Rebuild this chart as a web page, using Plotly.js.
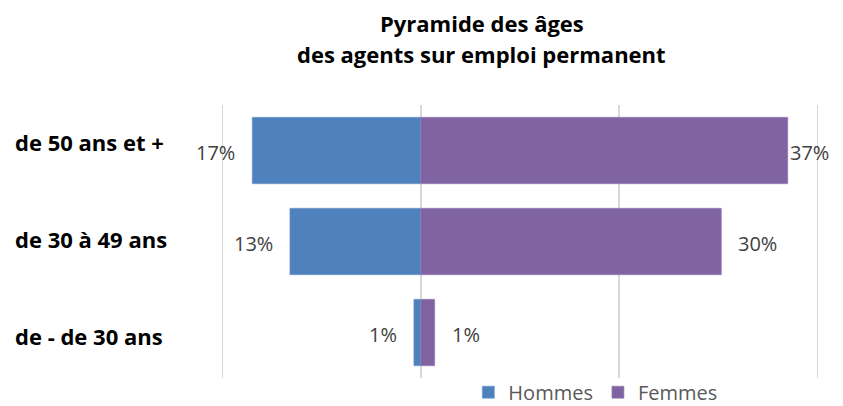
<!DOCTYPE html>
<html>
<head>
<meta charset="utf-8">
<script src="https://cdn.plot.ly/plotly-3.0.1.min.js"></script>
<style>html,body{margin:0;padding:0;background:#fff;}#chart{width:843px;height:406px;}</style>
</head>
<body>
<div id="chart"></div>
<script>
// Data (top to bottom)
const categories = ['de 50 ans et +', 'de 30 à 49 ans', 'de - de 30 ans'];
const hommes = [17, 13.2, 0.7];
const femmes = [37, 30.3, 1.4];
const seriesNames = ['Hommes', 'Femmes'];
const titleLines = ['Pyramide des âges', 'des agents sur emploi permanent'];

const colH = '#4f81bd', colF = '#8064a2';
const fmt = v => Math.round(v) + '%';
const catShift = [9, 3, -3];

const traces = [
  {
    type: 'bar', orientation: 'h', name: seriesNames[0],
    y: categories, x: hommes.map(v => -v),
    marker: {color: colH, line: {color: '#6f97c9', width: 0.6}},
    width: 0.73, hoverinfo: 'skip'
  },
  {
    type: 'bar', orientation: 'h', name: seriesNames[1],
    y: categories, x: femmes,
    marker: {color: colF, line: {color: '#957cb3', width: 0.6}},
    width: 0.73, hoverinfo: 'skip'
  }
];

const annotations = [];
categories.forEach((c, i) => {
  annotations.push({
    xref: 'x', yref: 'y', x: -hommes[i], y: c, text: fmt(hommes[i]),
    xanchor: 'right', xshift: -15, yshift: -2, showarrow: false,
    font: {family: 'Open Sans', size: 20, color: '#404040'}
  });
  annotations.push({
    xref: 'x', yref: 'y', x: femmes[i], y: c, text: fmt(femmes[i]),
    xanchor: 'left', xshift: femmes[i] > 35 ? 0 : 15, yshift: -2, showarrow: false,
    font: {family: 'Open Sans', size: 20, color: '#404040'}
  });
  annotations.push({
    xref: 'paper', yref: 'y', x: -0.348, y: c, text: '<b>' + c + '</b>',
    xanchor: 'left', yshift: catShift[i], showarrow: false,
    font: {family: 'Open Sans', size: 22, color: '#000000'}
  });
});
titleLines.forEach((t, i) => {
  annotations.push({
    xref: 'paper', yref: 'paper', x: 0.436, y: i === 0 ? 1.30 : 1.185,
    xanchor: 'center', yanchor: 'middle', text: '<b>' + t + '</b>',
    showarrow: false,
    font: {family: 'Open Sans', size: 22, color: '#000000'}
  });
});

const layout = {
  width: 843, height: 406,
  margin: {l: 221, r: 24, t: 105, b: 28, autoexpand: false},
  paper_bgcolor: '#ffffff', plot_bgcolor: '#ffffff',
  barmode: 'relative',
  xaxis: {
    range: [-20.15, 40.15], dtick: 20, tick0: 0,
    showticklabels: false, ticks: '',
    showgrid: true, gridcolor: '#d9d9d9', gridwidth: 1.5,
    zeroline: true, zerolinecolor: '#d9d9d9', zerolinewidth: 1.5,
    showline: false, fixedrange: true
  },
  yaxis: {
    type: 'category', autorange: 'reversed',
    showticklabels: false, ticks: '', showgrid: false, zeroline: false,
    showline: false, fixedrange: true
  },
  showlegend: true,
  legend: {
    orientation: 'h', x: 0.626, xanchor: 'center',
    yref: 'container', y: 0.034, yanchor: 'middle',
    font: {family: 'Open Sans', size: 20, color: '#595959'},
    itemwidth: 30, tracegroupgap: 0, bgcolor: 'rgba(0,0,0,0)'
  },
  annotations: annotations
};

Plotly.newPlot('chart', traces, layout, {displayModeBar: false, staticPlot: true});
</script>
</body>
</html>
